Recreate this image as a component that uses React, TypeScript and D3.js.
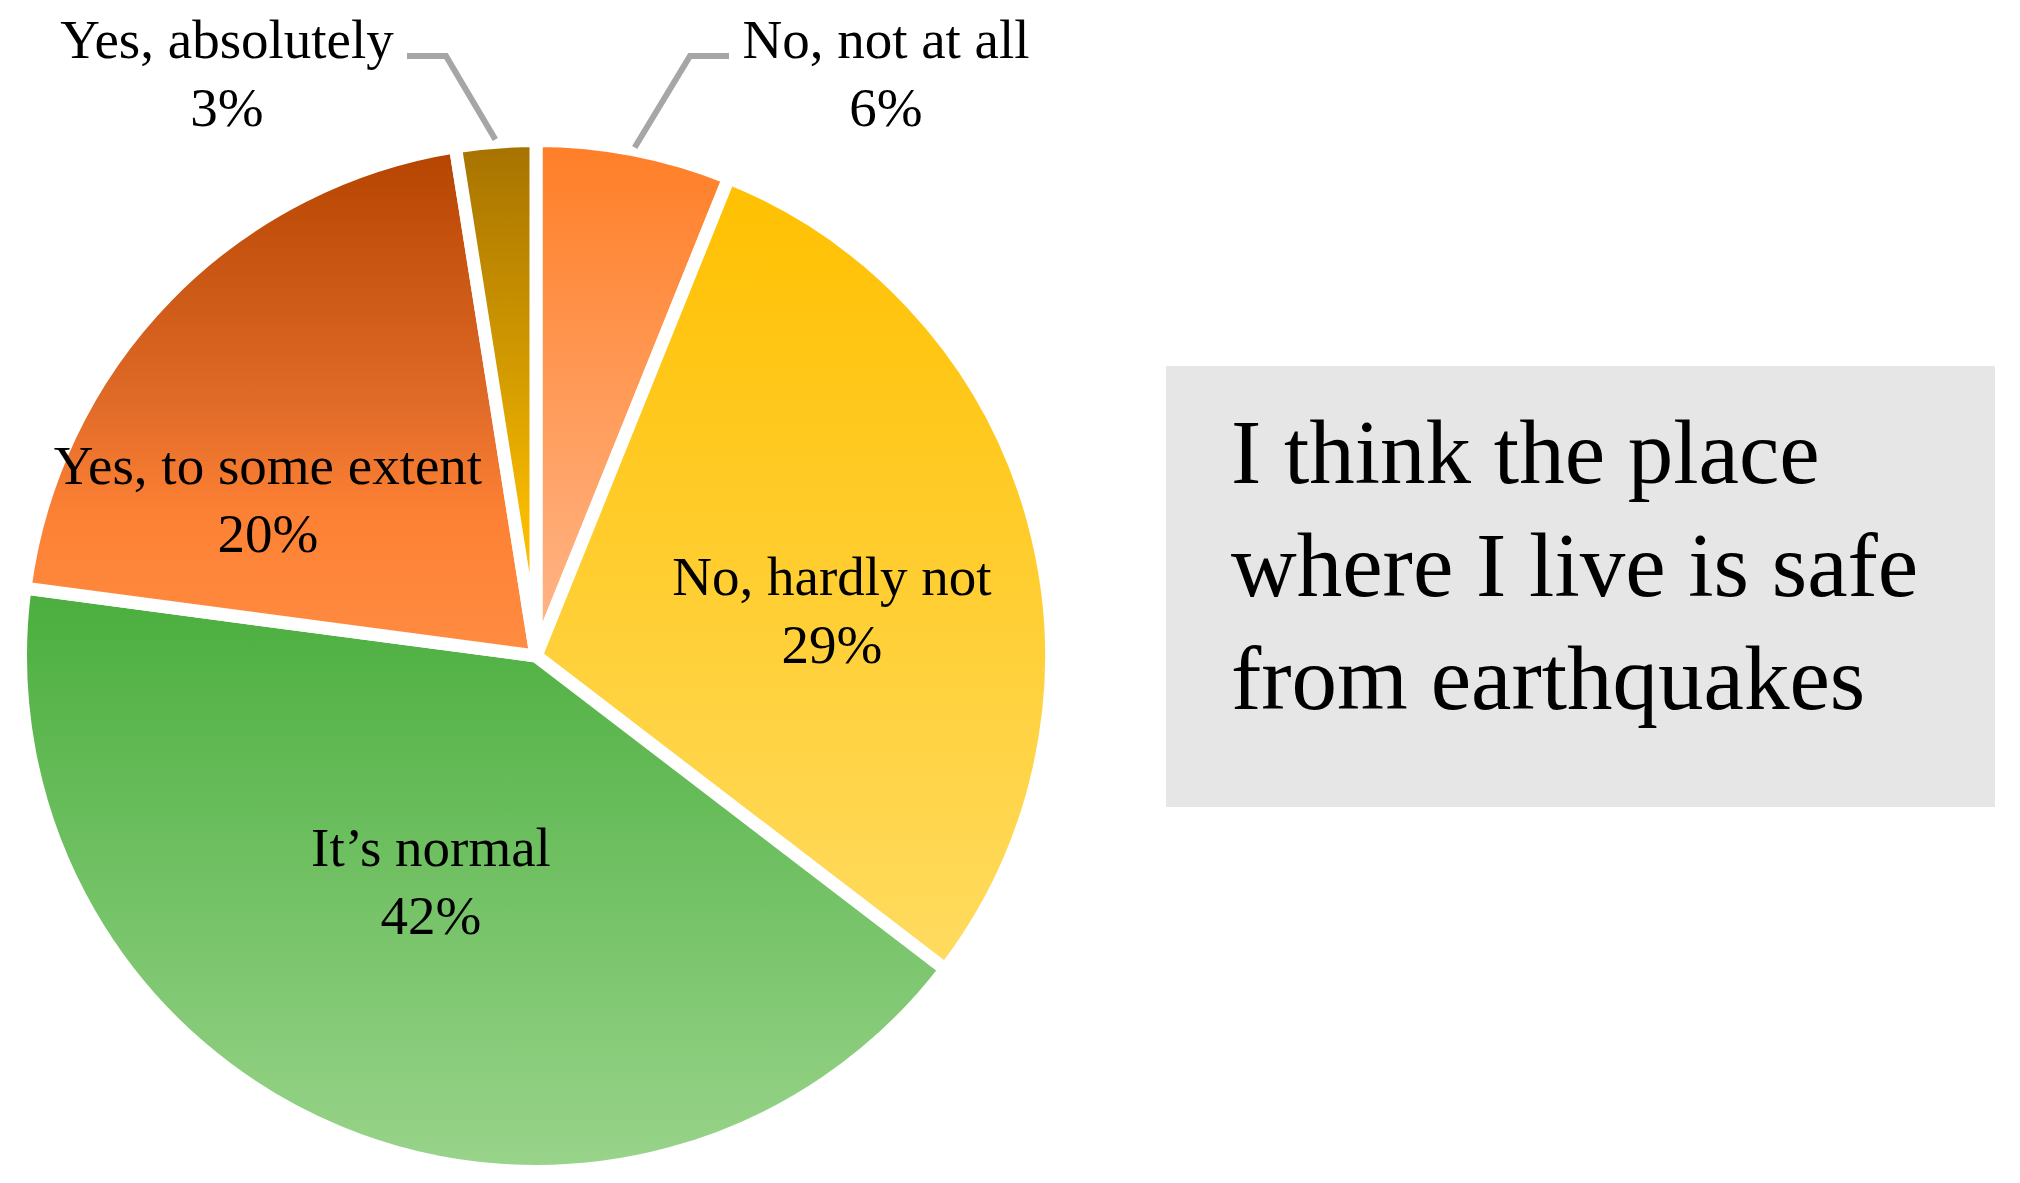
import React, { useEffect, useRef } from 'react';
import * as d3 from 'd3';

// answers, clockwise from 12 o'clock
const categories = ['No, not at all', 'No, hardly not', 'It’s normal', 'Yes, to some extent', 'Yes, absolutely'];
const values = [6.1, 29.3, 41.7, 20.4, 2.5];
const titleLines = ['I think the place', 'where I live is safe', 'from earthquakes'];

// gradient stops per slice (top -> bottom)
const palette: [number, string][][] = [
  [[0, '#FF7E26'], [1, '#FFB88C']],
  [[0, '#FFC000'], [1, '#FFDB60']],
  [[0, '#4AAE3D'], [1, '#99D48B']],
  [[0, '#B54400'], [0.5, '#E06A28'], [0.72, '#FD8134'], [1, '#FF8C42']],
  [[0, '#A67200'], [0.5, '#D9A000'], [0.72, '#F8B900'], [1, '#FFC30A']],
];

// label anchor (first baseline) and leader elbows, in px
const labelPos: Record<string, { x: number; y: number; elbow?: [number, number]; end?: [number, number] }> = {
  'No, not at all': { x: 886, y: 58, elbow: [690, 56], end: [729, 56] },
  'No, hardly not': { x: 832, y: 595 },
  'It’s normal': { x: 431, y: 866 },
  'Yes, to some extent': { x: 268, y: 484 },
  'Yes, absolutely': { x: 227, y: 58, elbow: [446, 56], end: [407, 56] },
};

const W = 2020;
const H = 1183;

const App = () => {
  const ref = useRef<SVGSVGElement>(null);

  useEffect(() => {
    document.body.style.margin = '0';
    if (!ref.current) return;
    const svg = d3.select(ref.current);
    svg.selectAll('*').remove();

    const cx = 536;
    const cy = 656;
    const r = 515.5;
    const font = '"Liberation Serif", serif';

    const defs = svg.append('defs');
    palette.forEach((stops, i) => {
      const g = defs.append('linearGradient')
        .attr('id', `grad${i}`)
        .attr('x1', 0).attr('y1', 0).attr('x2', 0).attr('y2', 1);
      stops.forEach(([o, c]) => g.append('stop').attr('offset', o).attr('stop-color', c));
    });

    const pie = d3.pie<number>().sort(null).value(d => d);
    const arcs = pie(values);
    const arc = d3.arc<d3.PieArcDatum<number>>().innerRadius(0).outerRadius(r);

    const g = svg.append('g').attr('transform', `translate(${cx},${cy})`);

    g.selectAll('path.slice')
      .data(arcs)
      .join('path')
      .attr('class', 'slice')
      .attr('d', arc)
      .attr('fill', (d, i) => `url(#grad${i})`)
      .attr('stroke', '#fff')
      .attr('stroke-width', 13)
      .attr('stroke-linejoin', 'round');

    // leader lines for the outside labels
    arcs.forEach((d, i) => {
      const p = labelPos[categories[i]];
      if (!p.elbow || !p.end) return;
      const mid = (d.startAngle + d.endAngle) / 2;
      const rr = r - 6.5 + 9;
      const start: [number, number] = [cx + rr * Math.sin(mid), cy - rr * Math.cos(mid)];
      svg.append('path')
        .attr('d', d3.line()([start, p.elbow, p.end]))
        .attr('fill', 'none')
        .attr('stroke', '#A6A6A6')
        .attr('stroke-width', 6);
    });

    // data labels
    categories.forEach((c, i) => {
      const p = labelPos[c];
      const t = svg.append('text')
        .attr('x', p.x)
        .attr('y', p.y)
        .attr('text-anchor', 'middle')
        .attr('font-family', font)
        .attr('font-size', 55)
        .attr('fill', '#000');
      t.append('tspan').attr('x', p.x).text(c);
      t.append('tspan').attr('x', p.x).attr('dy', 68).text(`${Math.round(values[i])}%`);
    });

    // title box
    svg.append('rect')
      .attr('x', 1166).attr('y', 366)
      .attr('width', 829).attr('height', 441)
      .attr('fill', '#E7E6E6');

    svg.append('g')
      .selectAll('text')
      .data(titleLines)
      .join('text')
      .attr('x', 1231)
      .attr('y', (d, i) => 483 + i * 113)
      .attr('font-family', font)
      .attr('font-size', 91)
      .attr('fill', '#000')
      .text(d => d);
  }, []);

  return <svg ref={ref} width={W} height={H} style={{ display: 'block', background: '#fff' }}></svg>;
};

export default App;
